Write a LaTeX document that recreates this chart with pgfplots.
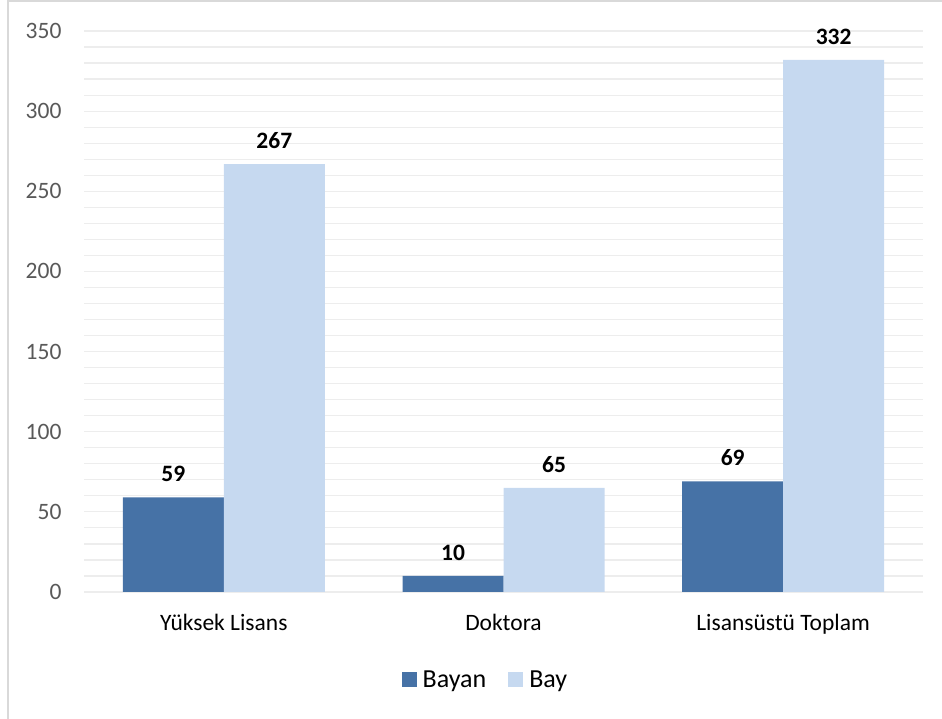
\documentclass[border=0pt]{standalone}
\usepackage{pgfplots}
\pgfplotsset{compat=1.18}
\usepackage{fontspec}
\setmainfont{Carlito}
\definecolor{bayan}{HTML}{4672A6}
\definecolor{bay}{HTML}{C6D9F0}
\definecolor{gridc}{HTML}{EDEDED}
\definecolor{axc}{HTML}{D9D9D9}
\definecolor{tickc}{HTML}{595959}
\definecolor{framec}{HTML}{D9D9D9}
\begin{document}
\begin{tikzpicture}
\begin{axis}[
  at={(84bp,127bp)}, anchor=south west,
  scale only axis, width=839bp, height=561bp,
  xmin=-0.5, xmax=2.5, ymin=0, ymax=350,
  xtick={0,1,2},
  xticklabels={Yüksek Lisans, Doktora, Lisansüstü Toplam},
  ytick={0,50,...,350},
  minor y tick num=4,
  ymajorgrids, yminorgrids,
  major grid style={draw=gridc, line width=1.2bp},
  minor grid style={draw=gridc, line width=1.2bp},
  extra y ticks={0},
  extra y tick labels={},
  extra y tick style={grid style={draw=axc, line width=1.5bp}},
  axis line style={draw=none},
  major tick length=0pt, minor tick length=0pt,
  ybar=0pt, bar width=101bp,
  /pgf/number format/assume math mode=true,
  yticklabel style={font=\fontsize{23.5bp}{28bp}\selectfont, text=tickc, xshift=-19bp},
  xticklabel style={font=\fontsize{23.5bp}{28bp}\selectfont, text=black, yshift=-19bp},
  nodes near coords,
  every node near coord/.append style={font=\bfseries\fontsize{23.5bp}{28bp}\selectfont, text=black, yshift=12bp},
  legend style={at={(0.4785,-0.156)}, anchor=center, draw=none, fill=none,
    legend columns=2, font=\fontsize{26bp}{30bp}\selectfont,
    /tikz/every odd column/.append style={column sep=4bp},
    /tikz/every even column/.append style={column sep=20bp}},
  legend image code/.code={\fill[#1] (0bp,-7.5bp) rectangle (15bp,7.5bp);},
]
\addplot[fill=bayan, draw=none] coordinates {(0,59) (1,10) (2,69)};
\addplot[fill=bay, draw=none] coordinates {(0,267) (1,65) (2,332)};
\legend{Bayan, Bay}
\end{axis}
\draw[framec, line width=2bp] (7.5bp,-5bp) -- (7.5bp,717.5bp) -- (960bp,717.5bp);
\pgfresetboundingbox
\useasboundingbox (0,0) rectangle (942bp,719bp);
\end{tikzpicture}
\end{document}
